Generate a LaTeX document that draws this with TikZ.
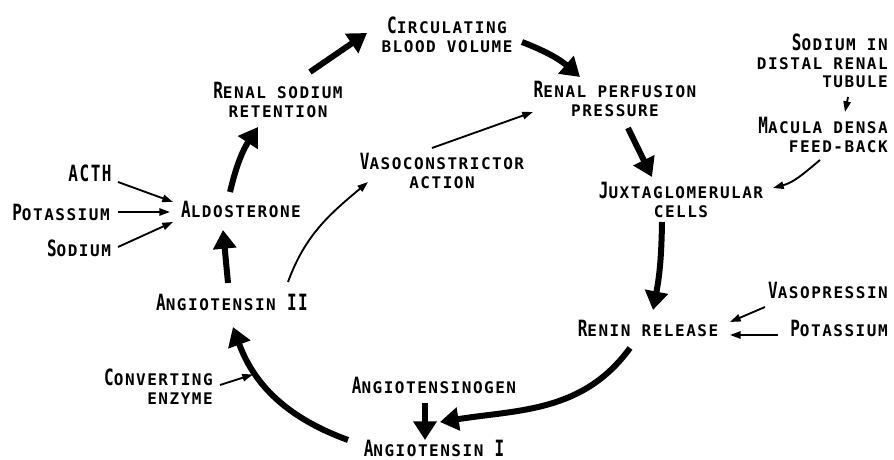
\documentclass[tikz,border=0pt]{standalone}
\usepackage{fontspec}
\usepackage{tikz}
\usetikzlibrary{arrows.meta,calc}
\newfontfamily\lettering[LetterSpace=9.5]{DejaVu Sans Mono}
\newcommand\Ini[1]{\scalebox{1}[1.4]{#1}}
\tikzset{
  lbl/.style={inner sep=0pt,align=center,font=\lettering\bfseries\fontsize{12}{14}\selectfont},
  lblr/.style={lbl,align=right,anchor=east},
  flow/.style={-{Triangle[length=14pt,width=17pt]},line width=4.5pt},
  feed/.style={-{Triangle[length=8pt,width=5.5pt]},line width=1.4pt},
}
\begin{document}
\begin{tikzpicture}[x=.75pt,y=.75pt]
  \useasboundingbox (0,0) rectangle (894,460);
  % cycle
  \node[lbl] (circ) at (447,425) {\Ini{C}IRCULATING\\BLOOD VOLUME};
  \node[lbl] (rss) at (278,360) {\Ini{R}ENAL SODIUM\\RETENTION};
  \node[lbl] (rpp) at (615,361) {\Ini{R}ENAL PERFUSION\\PRESSURE};
  \node[lbl] (jux) at (681,260) {\Ini{J}UXTAGLOMERULAR\\CELLS};
  \node[lbl] (renin) at (648,132) {\Ini{R}ENIN RELEASE};
  \node[lbl] (ang1) at (434,12) {\Ini{A}NGIOTENSIN \Ini{I}};
  \node[lbl] (ang2) at (232,158) {\Ini{A}NGIOTENSIN \Ini{II}};
  \node[lbl] (aldo) at (241,251) {\Ini{A}LDOSTERONE};
  \node[lbl] (vaso) at (442,289) {\Ini{V}ASOCONSTRICTOR\\ACTION};
  % inputs
  \node[lbl] (acth) at (90,287) {\Ini{ACTH}};
  \node[lbl] (potL) at (61,248) {\Ini{P}OTASSIUM};
  \node[lbl] (sodL) at (79,212) {\Ini{S}ODIUM};
  \node[lblr] (conv) at (213,73) {\Ini{C}ONVERTING\\ENZYME};
  \node[lbl] (angen) at (434,75) {\Ini{A}NGIOTENSINOGEN};
  \node[lbl] (vasop) at (828,170) {\Ini{V}ASOPRESSIN};
  \node[lbl] (potR) at (839,132) {\Ini{P}OTASSIUM};
  \node[lblr] (sdt) at (888,399) {\Ini{S}ODIUM IN\\DISTAL RENAL\\TUBULE};
  \node[lblr] (mdf) at (888,325) {\Ini{M}ACULA DENSA\\FEED-BACK};

  \draw[flow] ($(aldo)+(-11,17)$) to[bend left=10] ($(rss)+(-20,-27)$);
  \draw[flow] ($(rss)+(32,28)$) -- ($(circ)+(-80,2)$);
  \draw[flow] ($(circ)+(75,-7)$) to[bend left=10] ($(rpp)+(-35,22)$);
  \draw[flow] ($(rpp)+(13,-29)$) -- ($(jux)+(-29,23)$);
  \draw[flow] ($(jux)+(-19,-22)$) to[bend left=5] ($(renin)+(5,18)$);
  \draw[flow] ($(renin)+(-18,-20)$) to[out=234,in=9] ($(ang1)+(6,26)$);
  \draw[flow] ($(ang1)+(-86,8)$) to[out=160,in=-70] coordinate[pos=.7] (enz) ($(ang2)+(1,-25)$);
  \draw[flow] ($(ang2)+(-4,19)$) -- ($(aldo)+(-18,-21)$);
  \draw[flow] ($(angen)+(-9,-18)$) -- ($(ang1)+(-9,8)$);

  \draw[feed] ($(ang2)+(56,20)$) to[out=70,in=220] ($(vaso)+(-74,-11)$);
  \draw[feed] ($(vaso)+(-10,23)$) -- ($(rpp)+(-82,-13)$);
  \draw[feed] ($(acth)+(28,-9)$) -- ($(aldo)+(-68,7)$);
  \draw[feed] ($(potL)+(57,0)$) -- ($(aldo)+(-71,-3)$);
  \draw[feed] ($(sodL)+(39,1)$) -- ($(aldo)+(-68,-13)$);
  \draw[feed] ($(sdt.east)+(-40,-36)$) -- ($(mdf.east)+(-43,23)$);
  \draw[feed] ($(mdf.east)+(-68,-25)$) to[out=220,in=15] ($(jux)+(92,12)$);
  \draw[feed,shorten >=2.5pt] ($(conv.east)+(7,2)$) -- (enz);
  \draw[feed] ($(vasop)+(-63,-17)$) -- ($(renin)+(82,6)$);
  \draw[feed] ($(potR)+(-61,-7)$) -- ($(renin)+(82,-7)$);
\end{tikzpicture}
\end{document}
